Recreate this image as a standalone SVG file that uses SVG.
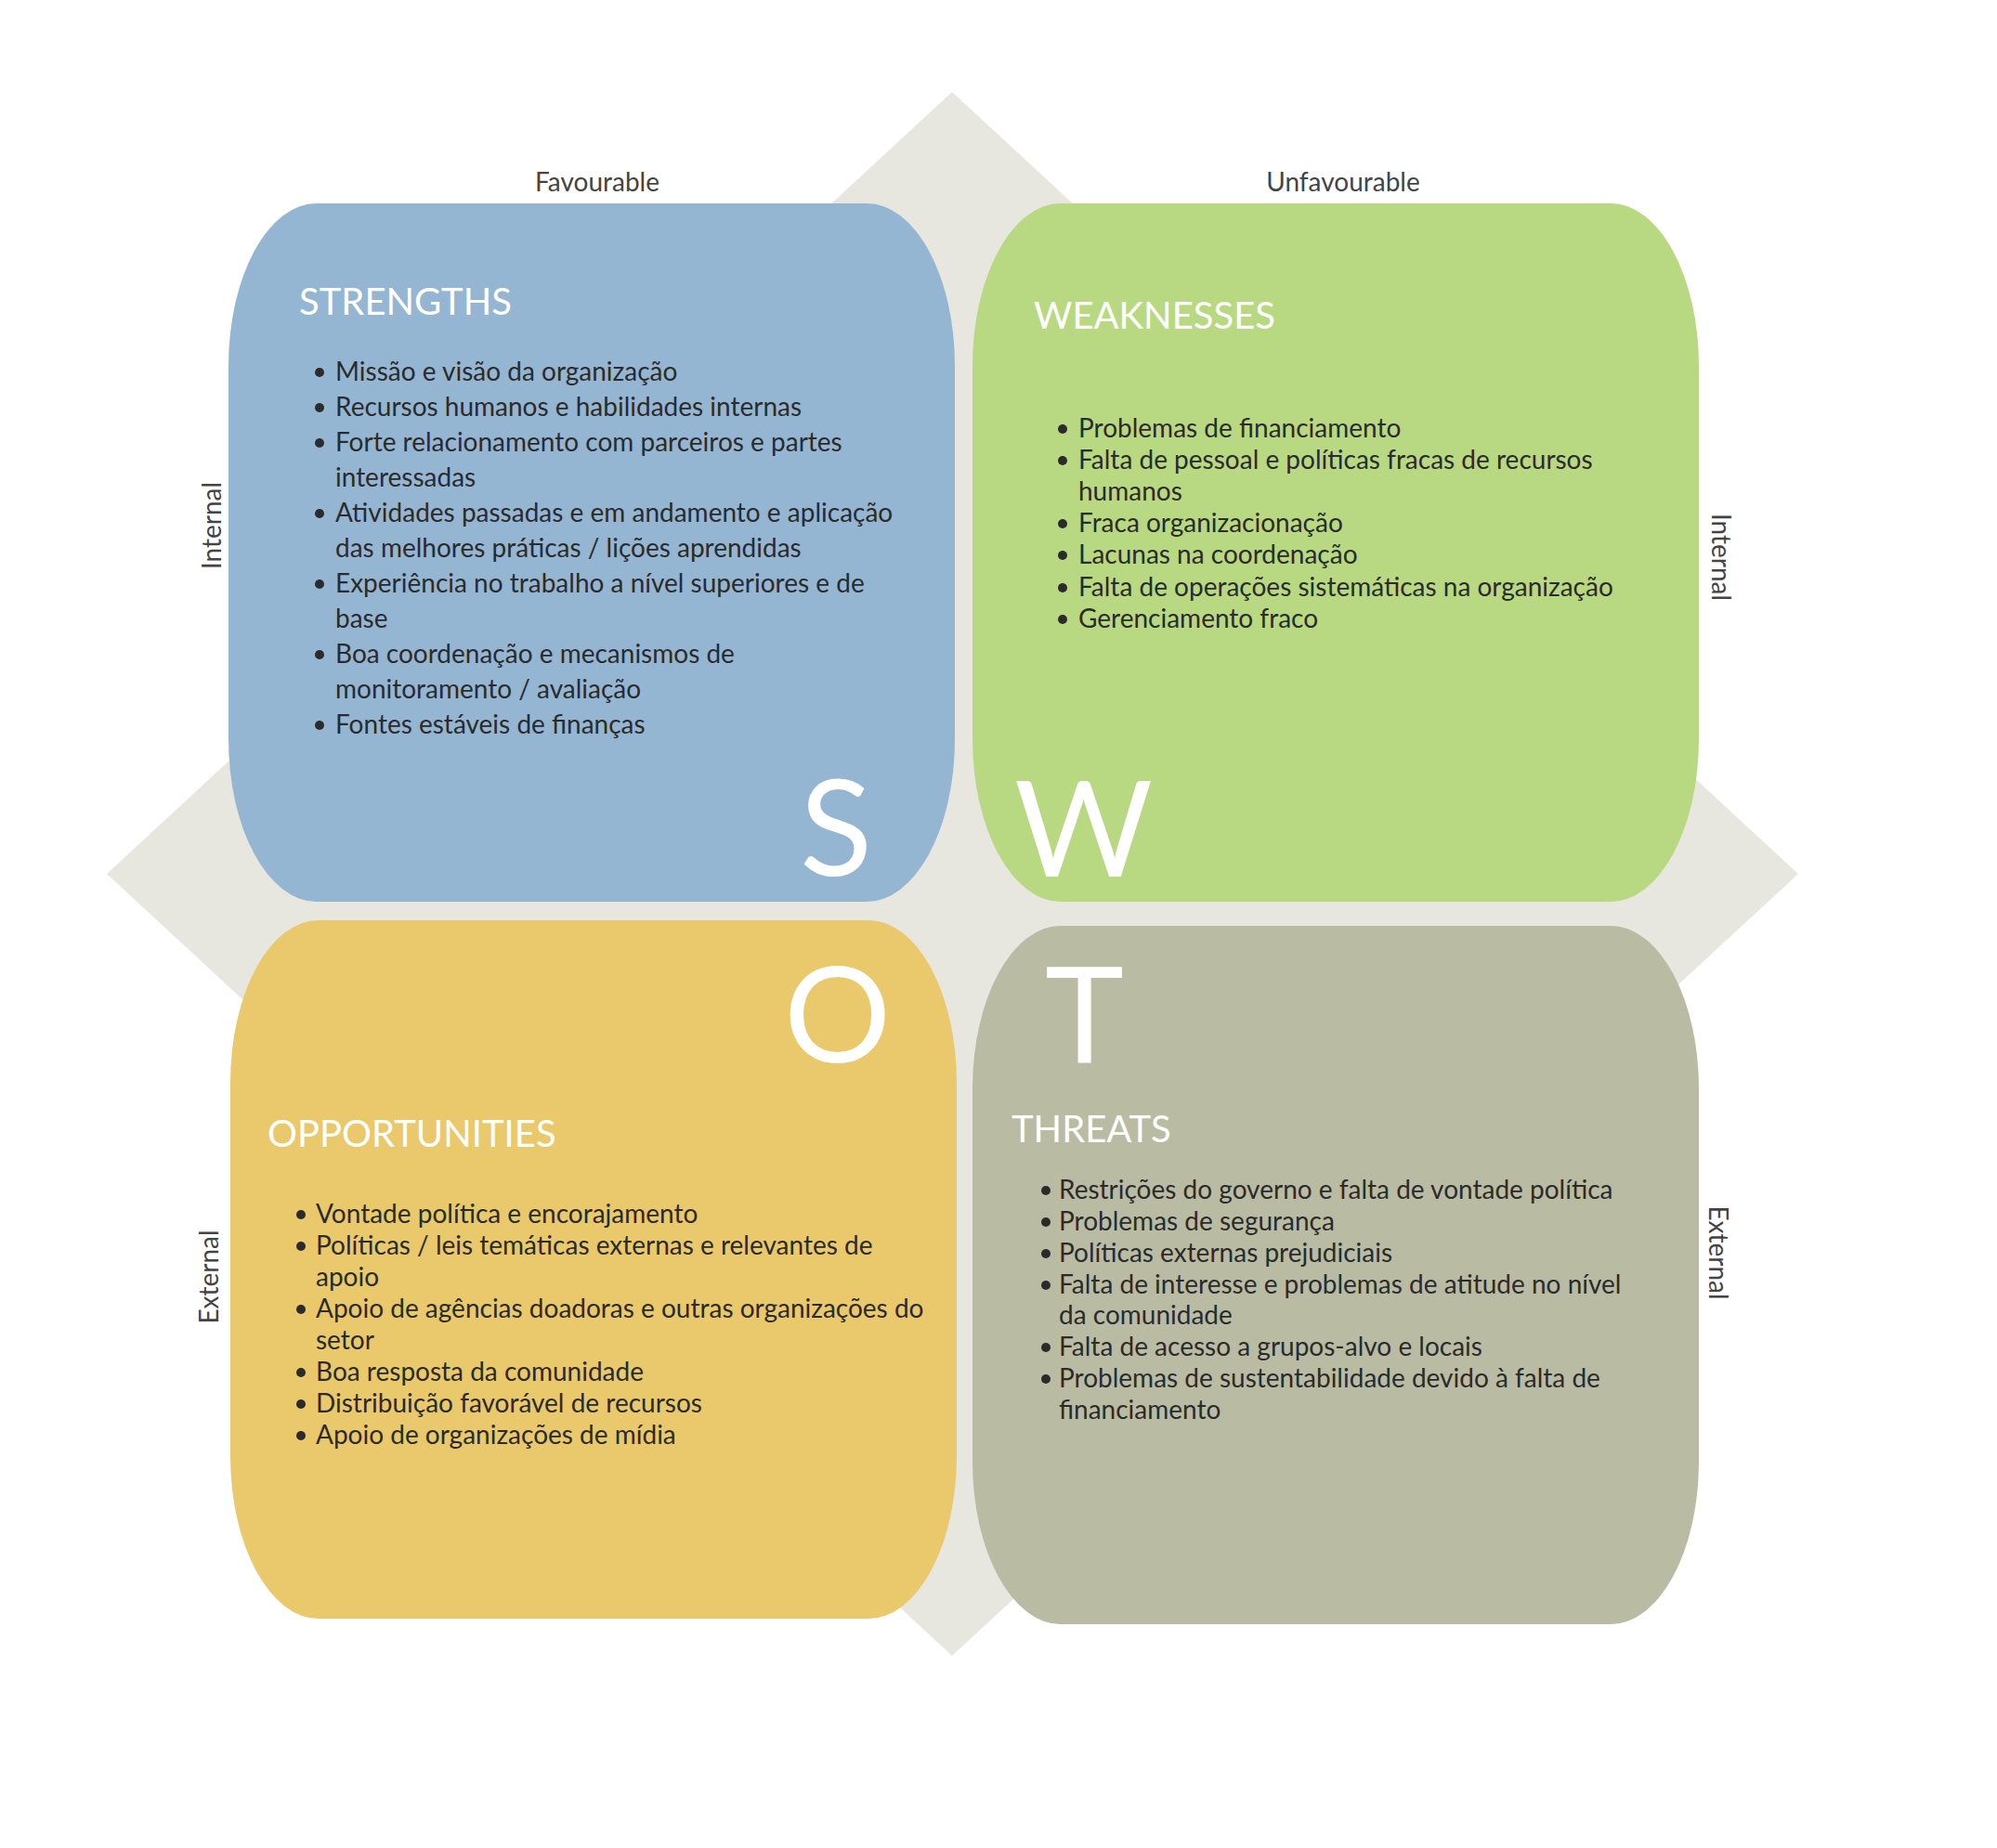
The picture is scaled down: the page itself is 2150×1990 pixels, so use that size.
<svg xmlns="http://www.w3.org/2000/svg" width="2150" height="1990" viewBox="0 0 2150 1990">
  <style>
    .bg { fill: #ffffff; }
    .diamond { fill: #e7e6df; }
    .box-s { fill: #95b6d3; }
    .box-w { fill: #b8d982; }
    .box-o { fill: #eac86c; }
    .box-t { fill: #b9bca3; }
    .axis { font-family: Lato, "Liberation Sans", sans-serif; font-size: 28px; fill: #444444; }
    .head { font-family: Lato, "Liberation Sans", sans-serif; font-size: 40px; fill: #ffffff; }
    .big { font-family: Lato, "Liberation Sans", sans-serif; font-size: 144px; font-weight: 400; fill: #ffffff; }
    .item { font-family: Lato, "Liberation Sans", sans-serif; font-size: 28px; fill: #2b2b2b; }
    .dot { fill: #2b2b2b; }
  </style>

  <rect class="bg" x="0" y="0" width="2150" height="1990"/>

  <!-- backdrop diamond behind the four quadrants -->
  <polygon class="diamond" points="1025,99 1936,941 1025,1783 115,941"/>

  <!-- axis captions -->
  <g id="axis-labels">
    <text class="axis" x="643" y="206" text-anchor="middle">Favourable</text>
    <text class="axis" x="1446" y="206" text-anchor="middle">Unfavourable</text>
    <text class="axis" transform="translate(238,566) rotate(-90)" text-anchor="middle">Internal</text>
    <text class="axis" transform="translate(235,1375) rotate(-90)" text-anchor="middle">External</text>
    <text class="axis" transform="translate(1843,600) rotate(90)" text-anchor="middle">Internal</text>
    <text class="axis" transform="translate(1840,1349) rotate(90)" text-anchor="middle">External</text>
  </g>

  <!-- Strengths -->
  <g id="strengths">
    <rect class="box-s" x="246" y="219" width="782" height="752" rx="95" ry="175"/>
    <text class="head" x="322" y="339">STRENGTHS</text>
    <g class="dots">
      <circle class="dot" cx="344" cy="401" r="5"/>
      <circle class="dot" cx="344" cy="439" r="5"/>
      <circle class="dot" cx="344" cy="477" r="5"/>
      <circle class="dot" cx="344" cy="553" r="5"/>
      <circle class="dot" cx="344" cy="629" r="5"/>
      <circle class="dot" cx="344" cy="705" r="5"/>
      <circle class="dot" cx="344" cy="781" r="5"/>
    </g>
    <text class="item" x="361" y="410">Missão e visão da organização</text>
    <text class="item" x="361" y="448">Recursos humanos e habilidades internas</text>
    <text class="item" x="361" y="486">Forte relacionamento com parceiros e partes</text>
    <text class="item" x="361" y="524">interessadas</text>
    <text class="item" x="361" y="562">Atividades passadas e em andamento e aplicação</text>
    <text class="item" x="361" y="600">das melhores práticas / lições aprendidas</text>
    <text class="item" x="361" y="638">Experiência no trabalho a nível superiores e de</text>
    <text class="item" x="361" y="676">base</text>
    <text class="item" x="361" y="714">Boa coordenação e mecanismos de</text>
    <text class="item" x="361" y="752">monitoramento / avaliação</text>
    <text class="item" x="361" y="790">Fontes estáveis de finanças</text>
    <text class="big" x="861" y="943">S</text>
  </g>

  <!-- Weaknesses -->
  <g id="weaknesses">
    <rect class="box-w" x="1047" y="219" width="782" height="752" rx="95" ry="175"/>
    <text class="head" x="1113" y="354">WEAKNESSES</text>
    <g class="dots">
      <circle class="dot" cx="1144" cy="462" r="5"/>
      <circle class="dot" cx="1144" cy="496" r="5"/>
      <circle class="dot" cx="1144" cy="564" r="5"/>
      <circle class="dot" cx="1144" cy="598" r="5"/>
      <circle class="dot" cx="1144" cy="633" r="5"/>
      <circle class="dot" cx="1144" cy="667" r="5"/>
    </g>
    <text class="item" x="1161" y="471">Problemas de financiamento</text>
    <text class="item" x="1161" y="505">Falta de pessoal e políticas fracas de recursos</text>
    <text class="item" x="1161" y="539">humanos</text>
    <text class="item" x="1161" y="573">Fraca organizacionação</text>
    <text class="item" x="1161" y="607">Lacunas na coordenação</text>
    <text class="item" x="1161" y="642">Falta de operações sistemáticas na organização</text>
    <text class="item" x="1161" y="676">Gerenciamento fraco</text>
    <text class="big" x="1092" y="944">W</text>
  </g>

  <!-- Opportunities -->
  <g id="opportunities">
    <rect class="box-o" x="248" y="991" width="782" height="752" rx="95" ry="175"/>
    <text class="head" x="288" y="1235">OPPORTUNITIES</text>
    <g class="dots">
      <circle class="dot" cx="324" cy="1308" r="5"/>
      <circle class="dot" cx="324" cy="1342" r="5"/>
      <circle class="dot" cx="324" cy="1410" r="5"/>
      <circle class="dot" cx="324" cy="1478" r="5"/>
      <circle class="dot" cx="324" cy="1512" r="5"/>
      <circle class="dot" cx="324" cy="1546" r="5"/>
    </g>
    <text class="item" x="340" y="1317">Vontade política e encorajamento</text>
    <text class="item" x="340" y="1351">Políticas / leis temáticas externas e relevantes de</text>
    <text class="item" x="340" y="1385">apoio</text>
    <text class="item" x="340" y="1419">Apoio de agências doadoras e outras organizações do</text>
    <text class="item" x="340" y="1453">setor</text>
    <text class="item" x="340" y="1487">Boa resposta da comunidade</text>
    <text class="item" x="340" y="1521">Distribuição favorável de recursos</text>
    <text class="item" x="340" y="1555">Apoio de organizações de mídia</text>
    <text class="big" x="844" y="1144">O</text>
  </g>

  <!-- Threats -->
  <g id="threats">
    <rect class="box-t" x="1047" y="997" width="782" height="752" rx="95" ry="175"/>
    <text class="head" x="1089" y="1230">THREATS</text>
    <g class="dots">
      <circle class="dot" cx="1126" cy="1282" r="5"/>
      <circle class="dot" cx="1126" cy="1316" r="5"/>
      <circle class="dot" cx="1126" cy="1350" r="5"/>
      <circle class="dot" cx="1126" cy="1384" r="5"/>
      <circle class="dot" cx="1126" cy="1451" r="5"/>
      <circle class="dot" cx="1126" cy="1485" r="5"/>
    </g>
    <text class="item" x="1140" y="1291">Restrições do governo e falta de vontade política</text>
    <text class="item" x="1140" y="1325">Problemas de segurança</text>
    <text class="item" x="1140" y="1359">Políticas externas prejudiciais</text>
    <text class="item" x="1140" y="1393">Falta de interesse e problemas de atitude no nível</text>
    <text class="item" x="1140" y="1426">da comunidade</text>
    <text class="item" x="1140" y="1460">Falta de acesso a grupos-alvo e locais</text>
    <text class="item" x="1140" y="1494">Problemas de sustentabilidade devido à falta de</text>
    <text class="item" x="1140" y="1528">financiamento</text>
    <text class="big" x="1125" y="1144">T</text>
  </g>

  <!-- no connectors in this chart -->
  <g id="connectors"/>
</svg>
